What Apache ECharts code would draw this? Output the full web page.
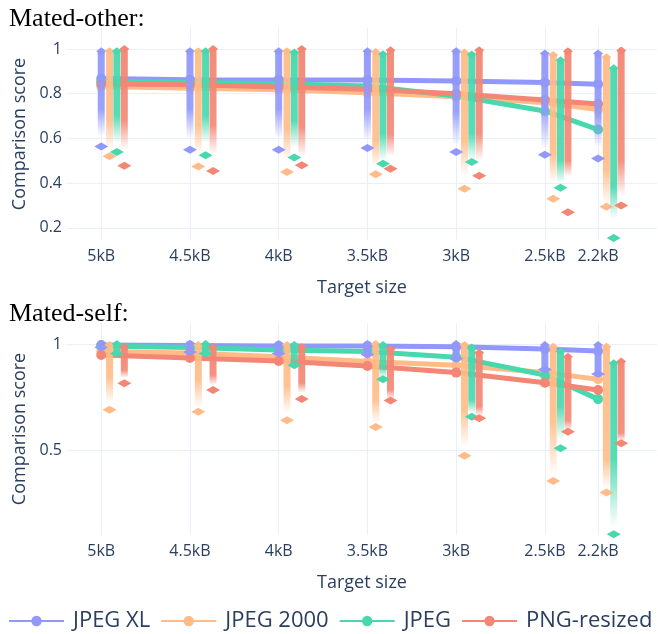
<!DOCTYPE html>
<html>
<head>
<meta charset="utf-8">
<script src="https://cdn.jsdelivr.net/npm/echarts@6/dist/echarts.min.js"></script>
<style>
html,body{margin:0;padding:0;background:#fff;}
#chart{width:658px;height:634px;}
</style>
</head>
<body>
<div id="chart"></div>
<script>
// ---- data ----
const sizes = [5, 4.5, 4, 3.5, 3, 2.5, 2.2];
const sizeLabels = ['5kB', '4.5kB', '4kB', '3.5kB', '3kB', '2.5kB', '2.2kB'];
const codecs = ['JPEG XL', 'JPEG 2000', 'JPEG', 'PNG-resized'];
const panelTitles = ['Mated-other:', 'Mated-self:'];
const otherTicks = [0.2, 0.4, 0.6, 0.8, 1];
const selfTicks = [0.5, 1];

// Mated-other (rows: JPEG XL, JPEG 2000, JPEG, PNG-resized)
const otherMean = [
  [0.868, 0.863, 0.862, 0.861, 0.857, 0.850, 0.843],
  [0.832, 0.825, 0.818, 0.805, 0.787, 0.760, 0.730],
  [0.855, 0.850, 0.845, 0.835, 0.790, 0.723, 0.640],
  [0.844, 0.840, 0.830, 0.820, 0.800, 0.772, 0.754]
];
const otherMax = [
  [0.99, 0.99, 0.99, 0.99, 0.99, 0.98, 0.98],
  [0.99, 0.99, 0.99, 0.987, 0.985, 0.973, 0.963],
  [0.99, 0.99, 0.985, 0.977, 0.975, 0.95, 0.914],
  [1.0, 1.0, 1.0, 0.995, 0.995, 0.99, 0.993]
];
const otherDense = [
  [0.73, 0.73, 0.73, 0.73, 0.72, 0.73, 0.70],
  [0.68, 0.66, 0.64, 0.59, 0.59, 0.53, 0.46],
  [0.70, 0.70, 0.68, 0.62, 0.62, 0.50, 0.385],
  [0.68, 0.66, 0.65, 0.62, 0.62, 0.50, 0.50]
];
const otherSparse = [
  [0.61, 0.60, 0.60, 0.59, 0.57, 0.55, 0.56],
  [0.55, 0.53, 0.50, 0.47, 0.43, 0.40, 0.30],
  [0.58, 0.58, 0.56, 0.50, 0.50, 0.40, 0.24],
  [0.55, 0.53, 0.52, 0.52, 0.50, 0.43, 0.34]
];
const otherMin = [
  [0.564, 0.55, 0.55, 0.557, 0.54, 0.527, 0.51],
  [0.52, 0.475, 0.45, 0.44, 0.375, 0.33, 0.295],
  [0.539, 0.525, 0.515, 0.487, 0.495, 0.38, 0.155],
  [0.478, 0.455, 0.48, 0.465, 0.433, 0.27, 0.30]
];

// Mated-self
const selfMean = [
  [0.995, 0.993, 0.99, 0.99, 0.987, 0.976, 0.967],
  [0.964, 0.957, 0.94, 0.917, 0.90, 0.865, 0.834],
  [0.99, 0.983, 0.972, 0.964, 0.938, 0.854, 0.74],
  [0.948, 0.934, 0.92, 0.896, 0.865, 0.817, 0.783]
];
const selfMax = [
  [1.0, 1.0, 1.0, 1.0, 1.0, 0.995, 0.995],
  [0.995, 0.995, 0.995, 1.0, 0.995, 0.987, 0.987],
  [1.0, 1.0, 0.995, 0.995, 0.983, 0.964, 0.909],
  [0.985, 0.985, 0.985, 0.976, 0.959, 0.94, 0.917]
];
const selfDense = [
  [0.975, 0.957, 0.948, 0.94, 0.917, 0.877, 0.854],
  [0.845, 0.83, 0.80, 0.735, 0.69, 0.64, 0.453],
  [0.955, 0.95, 0.93, 0.89, 0.735, 0.704, 0.453],
  [0.877, 0.853, 0.815, 0.783, 0.704, 0.64, 0.58]
];
const selfSparse = [
  [0.975, 0.957, 0.948, 0.94, 0.917, 0.877, 0.854],
  [0.72, 0.70, 0.674, 0.627, 0.515, 0.374, 0.32],
  [0.948, 0.94, 0.90, 0.84, 0.673, 0.547, 0.138],
  [0.84, 0.806, 0.77, 0.74, 0.66, 0.59, 0.54]
];
const selfMin = [
  [0.985, 0.962, 0.955, 0.95, 0.93, 0.88, 0.858],
  [0.69, 0.68, 0.64, 0.608, 0.473, 0.354, 0.30],
  [0.955, 0.955, 0.90, 0.834, 0.657, 0.508, 0.102],
  [0.815, 0.783, 0.74, 0.733, 0.65, 0.586, 0.532]
];

// ---- styles ----
const rgb = [[145, 152, 250], [255, 188, 136], [71, 216, 174], [243, 134, 116]];
const col = c => 'rgb(' + c.join(',') + ')';
const cola = (c, a) => 'rgba(' + c.join(',') + ',' + a + ')';
const jitter = [0, 0.047, 0.088, 0.13];
const FONT = '"Open Sans", sans-serif';
const TXT = '#2a3f5f';
const GRID = '#EBF0F8';

const panels = [
  {mean: otherMean, max: otherMax, dense: otherDense, sparse: otherSparse, min: otherMin,
   ticks: otherTicks, ymin: 0.146, ymax: 1.094},
  {mean: selfMean, max: selfMax, dense: selfDense, sparse: selfSparse, min: selfMin,
   ticks: selfTicks, ymin: 0.099, ymax: 1.099}
];

const grids = [
  {left: 67, right: 1, top: 28, height: 212},
  {left: 67, right: 1, top: 323, height: 212}
];

const xAxes = grids.map((g, p) => ({
  type: 'value', gridIndex: p, inverse: true, min: 1.868, max: 5.193,
  name: 'Target size', nameLocation: 'middle', nameGap: 39,
  nameTextStyle: {fontFamily: FONT, fontSize: 18, color: TXT},
  axisLine: {show: false},
  axisTick: {show: false, customValues: sizes},
  axisLabel: {customValues: sizes, fontFamily: FONT, fontSize: 16, color: TXT, margin: 8,
    formatter: v => { const k = sizes.findIndex(s => Math.abs(s - v) < 1e-6); return k >= 0 ? sizeLabels[k] : ''; }},
  splitLine: {show: true, lineStyle: {color: GRID, width: 1}}
}));

const yAxes = panels.map((P, p) => ({
  type: 'value', gridIndex: p, min: P.ymin, max: P.ymax,
  name: 'Comparison score', nameLocation: 'middle', nameGap: 36,
  nameTextStyle: {fontFamily: FONT, fontSize: 18, color: TXT},
  axisLine: {show: false},
  axisTick: {show: false, customValues: P.ticks},
  axisLabel: {customValues: P.ticks, fontFamily: FONT, fontSize: 16, color: TXT, margin: 5,
    formatter: v => String(Math.round(v * 10) / 10)},
  splitLine: {show: true, lineStyle: {color: GRID, width: 1}}
}));

const series = [];
// mean lines first (legend icons)
panels.forEach((P, p) => {
  codecs.forEach((name, i) => {
    series.push({
      type: 'line', name: name, xAxisIndex: p, yAxisIndex: p, z: 2,
      data: sizes.map((s, k) => [s, P.mean[i][k]]),
      symbol: 'circle', symbolSize: 10, showSymbol: true,
      lineStyle: {width: 5, color: col(rgb[i])},
      itemStyle: {color: col(rgb[i])},
      emphasis: {disabled: true}
    });
  });
});
// distribution columns
panels.forEach((P, p) => {
  codecs.forEach((name, i) => {
    const c = rgb[i];
    series.push({
      type: 'custom', name: name, xAxisIndex: p, yAxisIndex: p, z: 3,
      encode: {x: 0, y: 1},
      data: sizes.map((s, k) => [s - jitter[i], P.max[i][k], P.dense[i][k], P.sparse[i][k]]),
      renderItem: function (params, api) {
        const x = api.value(0), top = api.value(1), dense = api.value(2), sparse = api.value(3);
        const p0 = api.coord([x, top]);
        const pd = api.coord([x, dense]);
        const p1 = api.coord([x, sparse]);
        const h = Math.max(p1[1] - p0[1], 1);
        let t = (pd[1] - p0[1]) / h;
        t = Math.min(Math.max(t, 0), 1);
        const stops = t >= 0.999
          ? [{offset: 0, color: cola(c, 0.95)}, {offset: 1, color: cola(c, 0.95)}]
          : [{offset: 0, color: cola(c, 0.95)}, {offset: t, color: cola(c, 0.9)}, {offset: 1, color: cola(c, 0)}];
        return {
          type: 'rect',
          shape: {x: p0[0] - 3.5, y: p0[1], width: 7, height: h, r: 2},
          style: {fill: new echarts.graphic.LinearGradient(0, 0, 0, 1, stops)}
        };
      }
    });
    series.push({
      type: 'scatter', name: name, xAxisIndex: p, yAxisIndex: p, z: 4,
      symbol: 'diamond', symbolSize: [10, 8],
      itemStyle: {color: col(c), opacity: 1},
      data: sizes.map((s, k) => [s - jitter[i], P.max[i][k]]),
      emphasis: {disabled: true}
    });
    series.push({
      type: 'scatter', name: name, xAxisIndex: p, yAxisIndex: p, z: 4,
      symbol: 'diamond', symbolSize: [14, 8],
      itemStyle: {color: col(c), opacity: 1},
      data: sizes.map((s, k) => [s - jitter[i], P.min[i][k]]),
      emphasis: {disabled: true}
    });
  });
});

const chart = echarts.init(document.getElementById('chart'), null, {renderer: 'canvas'});
chart.setOption({
  animation: false,
  backgroundColor: '#fff',
  title: panelTitles.map((t, p) => ({
    text: t, left: 4, top: p === 0 ? 1 : 296,
    textStyle: {fontFamily: '"Liberation Serif", "Times New Roman", serif', fontSize: 26, fontWeight: 'normal', color: '#000'}
  })),
  legend: {
    data: codecs, left: 3, top: 605, itemWidth: 55, itemHeight: 13, itemGap: 10,
    textStyle: {fontFamily: FONT, fontSize: 22, color: TXT, padding: [0, 0, 0, 4]},
    lineStyle: {width: 2}
  },
  grid: grids,
  xAxis: xAxes,
  yAxis: yAxes,
  series: series
});
</script>
</body>
</html>
